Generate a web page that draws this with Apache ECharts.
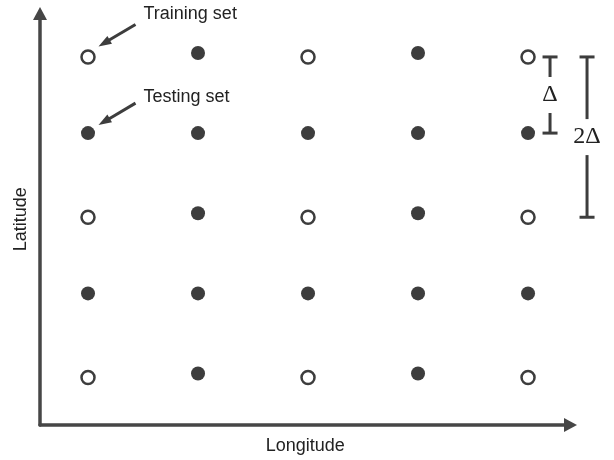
<!DOCTYPE html>
<html>
<head>
	<meta charset="utf-8">
	<title>Training / testing grid</title>
	<script src="https://cdn.jsdelivr.net/npm/echarts@6/dist/echarts.min.js"></script>
	<style>
		html, body { margin: 0; padding: 0; background: #fff; }
		#chart { width: 614px; height: 460px; }
	</style>
</head>
<body>
<div id="chart"></div>
<script>
	// grid points, [longitude index, latitude index]
	var trainingPoints = [
		[1, 4.95], [3, 4.95], [5, 4.95],
		[1, 2.95], [3, 2.95], [5, 2.95],
		[1, 0.95], [3, 0.95], [5, 0.95]
	];
	var testingPoints = [
		[2, 5], [4, 5],
		[1, 4], [2, 4], [3, 4], [4, 4], [5, 4],
		[2, 3], [4, 3],
		[1, 2], [2, 2], [3, 2], [4, 2], [5, 2],
		[2, 1], [4, 1]
	];
	var labels = ['Training set', 'Testing set', '\u0394', '2\u0394'];

	var ink = '#3d3d3d';
	var chart = echarts.init(document.getElementById('chart'));

	function axis(name, min, max, gap) {
		return {
			type: 'value', min: min, max: max,
			name: name, nameLocation: 'middle', nameGap: gap,
			nameTextStyle: { color: '#222', fontSize: 18, fontFamily: 'Liberation Sans' },
			axisLine: { show: true, symbol: ['none', 'triangle'], symbolSize: [14, 13],
				lineStyle: { color: '#464646', width: 3.5 } },
			axisTick: { show: false }, axisLabel: { show: false }, splitLine: { show: false }
		};
	}

	chart.setOption({
		animation: false,
		grid: { left: 40, right: 43.5, top: 13.5, bottom: 34.5 },
		xAxis: axis('Longitude', 0.5636, 5.386, 12),
		yAxis: axis('Latitude', 0.358, 5.492, 10),
		series: [{
			type: 'scatter', name: labels[0], data: trainingPoints,
			symbol: 'circle', symbolSize: 13,
			itemStyle: { color: '#fff', borderColor: ink, borderWidth: 2.5, opacity: 1 },
			emphasis: { disabled: true }, z: 3
		}, {
			type: 'scatter', name: labels[1], data: testingPoints,
			symbol: 'circle', symbolSize: 14,
			itemStyle: { color: ink, opacity: 1 },
			emphasis: { disabled: true }, z: 3
		}]
	});

	function px(p) { return chart.convertToPixel({ gridIndex: 0 }, p); }

	// pointer arrow from tail to tip
	function pointer(tail, tip) {
		var dx = tip[0] - tail[0], dy = tip[1] - tail[1];
		var len = Math.sqrt(dx * dx + dy * dy), ux = dx / len, uy = dy / len;
		var hl = 13, hw = 4.5;
		var bx = tip[0] - ux * hl, by = tip[1] - uy * hl;
		return [{
			type: 'line', silent: true,
			shape: { x1: tail[0], y1: tail[1], x2: bx + ux * 2, y2: by + uy * 2 },
			style: { stroke: ink, lineWidth: 3 }
		}, {
			type: 'polygon', silent: true,
			shape: { points: [tip, [bx - uy * hw, by + ux * hw], [bx + uy * hw, by - ux * hw]] },
			style: { fill: ink }
		}];
	}

	// vertical bar with caps, broken in the middle for a label
	function spanBar(x, y1, y2, label) {
		var mid = (y1 + y2) / 2, gap = 18, cap = 7.5, st = { stroke: ink, lineWidth: 3 };
		return [
			{ type: 'line', silent: true, shape: { x1: x - cap, y1: y1, x2: x + cap, y2: y1 }, style: st },
			{ type: 'line', silent: true, shape: { x1: x - cap, y1: y2, x2: x + cap, y2: y2 }, style: st },
			{ type: 'line', silent: true, shape: { x1: x, y1: y1, x2: x, y2: mid - gap }, style: st },
			{ type: 'line', silent: true, shape: { x1: x, y1: mid + gap, x2: x, y2: y2 }, style: st },
			{ type: 'text', silent: true, x: x, y: mid,
				style: { text: label, fill: '#222', font: '24px "Liberation Serif"', align: 'center', verticalAlign: 'middle' } }
		];
	}

	var trainPt = px(trainingPoints[0]);
	var testPt = px(testingPoints[2]);
	var topRight = px(trainingPoints[2]);
	var nextRow = px(testingPoints[6]);
	var twoRows = px(trainingPoints[5]);

	var trainTip = [trainPt[0] + 10.5, trainPt[1] - 10.5];
	var trainTail = [trainTip[0] + 37, trainTip[1] - 22];
	var testTip = [testPt[0] + 10.5, testPt[1] - 8];
	var testTail = [testTip[0] + 37, testTip[1] - 22];

	var elements = []
		.concat(pointer(trainTail, trainTip))
		.concat(pointer(testTail, testTip))
		.concat(spanBar(topRight[0] + 22, topRight[1], nextRow[1], labels[2]))
		.concat(spanBar(topRight[0] + 59, topRight[1], twoRows[1], labels[3]));
	elements.push({ type: 'text', silent: true, x: trainTail[0] + 8, y: trainTail[1] - 10,
		style: { text: labels[0], fill: '#222', font: '18px "Liberation Sans"', verticalAlign: 'middle' } });
	elements.push({ type: 'text', silent: true, x: testTail[0] + 8, y: testTail[1] - 6,
		style: { text: labels[1], fill: '#222', font: '18px "Liberation Sans"', verticalAlign: 'middle' } });

	chart.setOption({ graphic: { elements: elements } });
</script>
</body>
</html>
